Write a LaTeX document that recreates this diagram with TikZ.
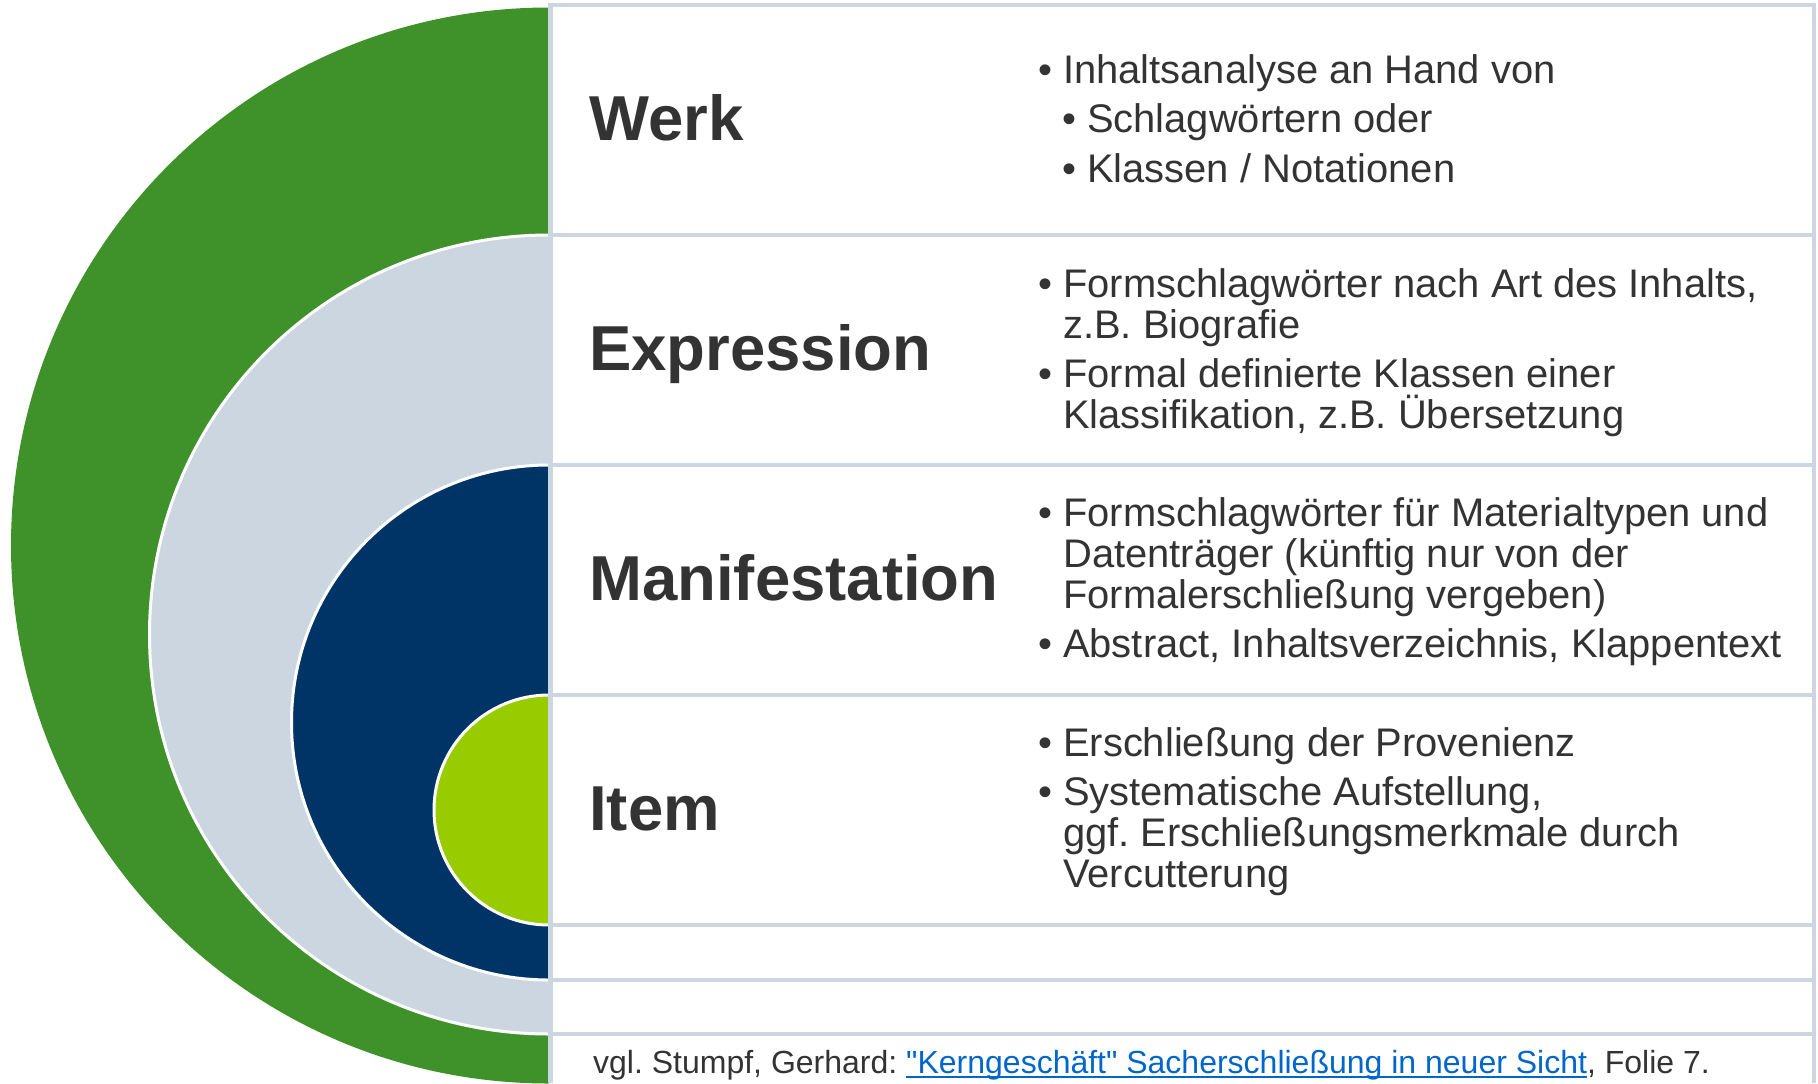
\documentclass[tikz,border=0pt]{standalone}
\usepackage{fontspec}
\setmainfont{Liberation Sans}[Ligatures=TeXOff]
\usepackage{tikz}
\frenchspacing

\definecolor{gruen}{RGB}{63,145,41}
\definecolor{hellgrau}{RGB}{204,214,224}
\definecolor{dunkelblau}{RGB}{0,52,102}
\definecolor{hellgruen}{RGB}{153,204,0}
\definecolor{schrift}{RGB}{51,51,51}
\definecolor{verweis}{RGB}{0,102,204}

\newcommand{\pkt}[1]{\hangindent=25bp\hangafter=1\noindent\makebox[25bp][l]{\textbullet}#1\par}
\newcommand{\upkt}[1]{\noindent\hspace*{24bp}\makebox[25bp][l]{\textbullet}#1\par}
\newcommand{\spalte}[1]{\vtop{\hsize=770bp\parindent=0pt\parskip=8.5bp\relax#1}}
\newcommand{\unterstrich}[1]{\setbox0\hbox{#1}\rlap{\rule[-5bp]{\wd0}{2bp}}\box0}

\begin{document}
\begin{tikzpicture}[x=1bp,y=-1bp]
						\tikzstyle{kopf}=[anchor=base west,inner sep=0,text=schrift,font=\fontsize{63.5bp}{70bp}\selectfont\bfseries]
						\tikzstyle{liste}=[anchor=base west,inner sep=0,text=schrift,font=\fontsize{39.9bp}{41bp}\selectfont]
						\tikzstyle{rahmen}=[draw=hellgrau,line width=4.5bp]
						\tikzstyle{kante}=[draw=white,line width=3bp]
						\useasboundingbox (0,0) rectangle (1818,1083);
						% Halbkreise
						\fill[gruen] (549,7.5) arc[start angle=270,end angle=90,radius=538] -- cycle;
						\fill[hellgrau] (549,235) arc[start angle=270,end angle=90,radius=399.5] -- cycle;
						\draw[kante] (549,235) arc[start angle=270,end angle=90,radius=399.5];
						\fill[dunkelblau] (549,465) arc[start angle=270,end angle=90,radius=257.5] -- cycle;
						\draw[kante] (549,465) arc[start angle=270,end angle=90,radius=257.5];
						\fill[hellgruen] (549,695) arc[start angle=270,end angle=90,radius=115] -- cycle;
						\draw[kante] (549,695) arc[start angle=270,end angle=90,radius=115];
						% Tabelle
						\draw[rahmen] (550.5,1083) -- (550.5,5) -- (1814,5) -- (1814,1083);
						\foreach \y in {235,465,695,925,980,1034}
							\draw[rahmen] (550.5,\y) -- (1814,\y);
						% Texte
						\node[kopf] (werk) at (589,140) {Werk};
						\node[kopf] (expr) at (589,370) {Expression};
						\node[kopf] (manif) at (589,600) {Manifestation};
						\node[kopf] (item) at (589,830) {Item};
						\node[liste] (werk-txt) at (1038,83) {\spalte{\pkt{Inhaltsanalyse an Hand von}\upkt{Schlagwörtern oder}\upkt{Klassen / Notationen}}};
						\node[liste] (expr-txt) at (1038,297) {\spalte{\pkt{Formschlagwörter nach Art des Inhalts,\newline z.B. Biografie}\pkt{Formal definierte Klassen einer\newline Klassifikation, z.B. Übersetzung}}};
						\node[liste] (manif-txt) at (1038,526) {\spalte{\pkt{Formschlagwörter für Materialtypen und\newline Datenträger (künftig nur von der\newline Formalerschließung vergeben)}\pkt{Abstract, Inhaltsverzeichnis, Klappentext}}};
						\node[liste] (item-txt) at (1038,756) {\spalte{\pkt{Erschließung der Provenienz}\pkt{Systematische Aufstellung,\newline ggf. Erschließungsmerkmale durch\newline Vercutterung}}};
						\node[anchor=base west,inner sep=0,text=schrift,font=\fontsize{32bp}{36bp}\selectfont] (quelle) at (593,1073) {vgl. Stumpf, Gerhard: {\color{verweis}\unterstrich{"Kerngeschäft" Sacherschließung in neuer Sicht}}, Folie 7.};
						\end{tikzpicture}
\end{document}
